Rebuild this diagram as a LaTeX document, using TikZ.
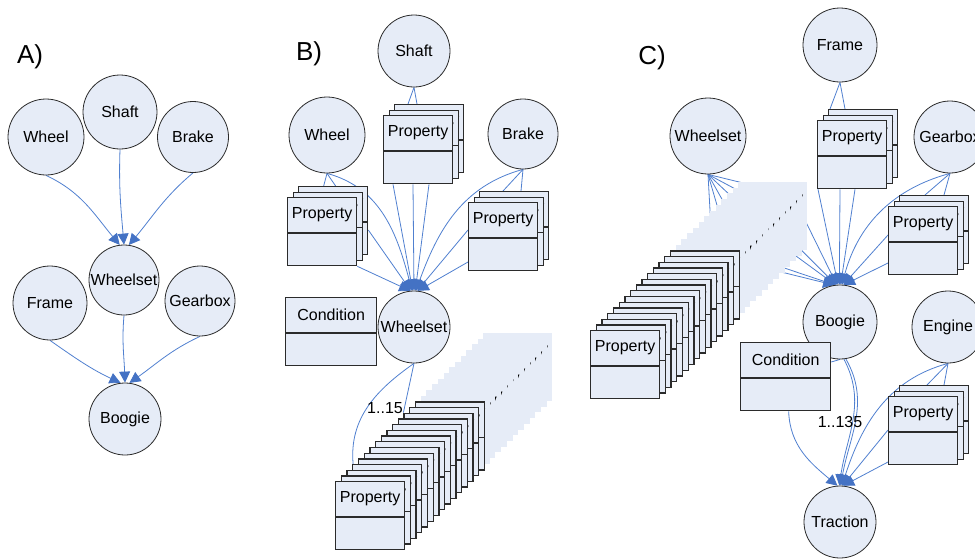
\documentclass[tikz,border=0pt]{standalone}
\usepackage{fontspec}
\setmainfont{Liberation Sans}
\usetikzlibrary{arrows.meta}
\pgfdeclarelayer{bg}
\pgfdeclarelayer{edges}
\pgfsetlayers{bg,edges,main}

\definecolor{entfill}{HTML}{E6ECF7}
\definecolor{linkblue}{HTML}{5080D0}
\definecolor{tipblue}{HTML}{4472C4}
\definecolor{outline}{HTML}{2B2B2B}

\tikzset{
  ent/.style={circle, draw=outline, line width=0.8pt, fill=entfill,
    minimum size=74pt, inner sep=0pt, font=\fontsize{16}{19}\selectfont},
  boxbody/.style={rectangle, draw=outline, line width=1.3pt, fill=entfill,
    minimum height=68pt, inner sep=0pt, anchor=north west},
  ghostbody/.style={rectangle, fill=entfill, minimum width=69pt,
    minimum height=68pt, inner sep=0pt, anchor=north west},
  boxtext/.style={inner sep=0pt, font=\fontsize{16}{19}\selectfont, text=black},
  divider/.style={draw=outline, line width=1.3pt},
  link/.style={draw=linkblue, line width=0.8pt},
  dep/.style={link, -{Triangle[length=11pt,width=11pt,color=tipblue]}},
  paneltitle/.style={inner sep=0pt, font=\fontsize{26}{30}\selectfont},
  mult/.style={inner sep=0pt, font=\fontsize{16}{19}\selectfont},
}

% class box: name, left x, top y, width, label
\newcommand\umlbox[5]{%
  \pgfmathsetmacro\ubx{#2}\pgfmathsetmacro\uby{#3}%
  \node[boxbody, minimum width=#4pt] (#1) at (\ubx,-\uby) {};
  \draw[divider] ([yshift=-36pt]#1.north west) -- ([yshift=-36pt]#1.north east);
  \node[boxtext] (#1-t) at ([yshift=-18pt]#1.north) {#5};
}
% faded class box without outline: name, left x, top y, label
\newcommand\ghostbox[4]{%
  \pgfmathsetmacro\ubx{#2}\pgfmathsetmacro\uby{#3}%
  \node[ghostbody] (#1) at (\ubx,-\uby) {};
  \node[boxtext] (#1-t) at ([yshift=-18pt]#1.north) {#4};
}

\begin{document}
\begin{tikzpicture}[x=1pt,y=1pt]
\useasboundingbox (0,0) rectangle (975,-558);
\begin{pgfonlayer}{bg}
  \fill[white] (0,0) rectangle (975,-558);
\end{pgfonlayer}

% ---------------- A) ----------------
\node[paneltitle] (tA) at (30,-57) {A)};
\node[ent, minimum size=76pt] (wheelA) at (46,-137) {Wheel};
\node[ent] (shaftA) at (120,-112) {Shaft};
\node[ent, minimum size=71pt] (brakeA) at (193,-137) {Brake};
\node[ent, minimum size=70pt] (wsA) at (124,-280) {Wheelset};
\node[ent] (frameA) at (50,-303) {Frame};
\node[ent, minimum size=70pt] (gearA) at (200,-301) {Gearbox};
\node[ent, minimum size=72pt] (boA) at (125,-419) {Boogie};

% ---------------- B) ----------------
\node[paneltitle] (tB) at (309,-54) {B)};
\node[ent, minimum size=72pt] (shaftB) at (414,-51) {Shaft};
\node[ent, minimum size=76pt] (wheelB) at (327,-135) {Wheel};
\node[ent, minimum size=70pt] (brakeB) at (523,-134) {Brake};
\node[ent, minimum size=72pt] (wsB) at (414,-327) {Wheelset};
\foreach \k in {2,1,0}{\umlbox{spB\k}{383+5.5*\k}{115-5.5*\k}{69}{Property}}
\foreach \k in {2,1,0}{\umlbox{wpB\k}{287+5.5*\k}{197-5.5*\k}{69}{Property}}
\foreach \k in {2,1,0}{\umlbox{bpB\k}{468+5.5*\k}{202-5.5*\k}{69}{Property}}
\umlbox{condB}{285}{297}{91}{Condition}
\foreach \k in {26,25,...,0}{%
  \ifnum\k>14 \ghostbox{sB\k}{335+5.7*\k}{481-5.7*\k}{Property}%
  \else \umlbox{sB\k}{335+5.7*\k}{481-5.7*\k}{69}{Property}\fi}
\node[mult] (mB) at (385,-408) {1..15};

% ---------------- C) ----------------
\node[paneltitle] (tC) at (652,-58) {C)};
\node[ent] (frameC) at (840,-45) {Frame};
\node[ent, minimum size=72pt] (gearC) at (950,-137) {Gearbox};
\node[ent, minimum size=76pt] (wsC) at (708,-136) {Wheelset};
\node[ent] (boC) at (840,-322) {Boogie};
\node[ent, minimum size=72pt] (engC) at (948,-327) {Engine};
\node[ent, minimum size=72pt] (trC) at (840,-522) {Traction};
\foreach \k in {2,1,0}{\umlbox{fpC\k}{817+5.5*\k}{120-5.5*\k}{69}{Property}}
\foreach \k in {2,1,0}{\umlbox{gpC\k}{888+5.5*\k}{206-5.5*\k}{69}{Property}}
\foreach \k in {2,1,0}{\umlbox{epC\k}{888+5.5*\k}{396-5.5*\k}{69}{Property}}
\umlbox{condC}{740}{342}{90}{Condition}
\foreach \k in {26,25,...,0}{%
  \ifnum\k>14 \ghostbox{sC\k}{590+5.7*\k}{330-5.7*\k}{Property}%
  \else \umlbox{sC\k}{590+5.7*\k}{330-5.7*\k}{69}{Property}\fi}
\node[mult] (mC) at (840,-422) {1..135};

% ---------------- connectors ----------------
\begin{pgfonlayer}{edges}
  % A
  \draw[dep] (wheelA.south) to[out=-25, in=130] (wsA.97);
  \draw[dep] (shaftA.south) to[out=-92, in=95] (wsA.90);
  \draw[dep] (brakeA.south) to[out=-140, in=50] (wsA.82);
  \draw[dep] (frameA.south) to[out=-35, in=155] (boA.97);
  \draw[dep] (wsA.south) to[out=-95, in=92] (boA.90);
  \draw[dep] (gearA.south) to[out=-155, in=35] (boA.83);

  % B: parts of the wheelset
  \draw[link] (wheelB.south) -- ([xshift=-9.5pt]wpB2.north);
  \draw[link] (wheelB.south) -- ([xshift=2.5pt]wpB2.north);
  \draw[dep] (wheelB.south) to[out=-15, in=105] (wsB.93);
  \draw[dep] ([yshift=-44pt]wpB2.north east) -- (wsB.95);
  \draw[dep] (wpB0.south east) -- (wsB.96);
  \draw[link] (shaftB.south) -- ([xshift=14pt]spB2.north west);
  \draw[link] (shaftB.south) -- ([xshift=23pt]spB2.north west);
  \draw[dep] ([xshift=10pt]spB0.south west) -- (wsB.92);
  \draw[dep] ([xshift=30pt]spB0.south west) -- (wsB.90);
  \draw[dep] ([xshift=46pt]spB0.south west) -- (wsB.88);
  \draw[link] (brakeB.south) -- ([xshift=24pt]bpB2.north west);
  \draw[link] (brakeB.south) -- ([xshift=42pt]bpB2.north west);
  \draw[dep] (brakeB.south) to[out=-165, in=70] (wsB.87);
  \draw[dep] ([yshift=-28pt]bpB0.north west) -- (wsB.85);
  \draw[dep] ([yshift=-60pt]bpB0.north west) -- (wsB.84);
  % B: wheelset properties
  \draw[link] (wsB.south) to[out=-145, in=95] ([xshift=1pt]sB3.north west);
  \draw[link] (wsB.south) -- (sB12.north west);

  % C: parts of the boogie
  \draw[link] (frameC.south) -- ([xshift=2pt]fpC2.north west);
  \draw[link] (frameC.south) -- ([xshift=17pt]fpC2.north west);
  \draw[dep] ([xshift=1pt]fpC0.south west) -- (boC.93);
  \draw[dep] ([xshift=23pt]fpC0.south west) -- (boC.91);
  \draw[dep] ([xshift=38pt]fpC0.south west) -- (boC.89);
  \draw[link] (gearC.south) -- ([xshift=26pt]gpC2.north west);
  \draw[link] (gearC.south) -- ([xshift=45pt]gpC2.north west);
  \draw[dep] (gearC.south) to[out=-165, in=75] (boC.87);
  \draw[dep] ([yshift=-29pt]gpC0.north west) -- (boC.85);
  \draw[dep] ([yshift=-57pt]gpC0.north west) -- (boC.84);
  % C: wheelset properties
  \draw[link] (wsC.south) -- ([shift={(68pt,26pt)}]sC20.north west);
  \draw[link] (wsC.south) -- ([shift={(52pt,16pt)}]sC20.north west);
  \draw[link] (wsC.south) -- ([shift={(44pt,4pt)}]sC20.north west);
  \draw[link] (wsC.south) -- ([shift={(32pt,-8pt)}]sC20.north west);
  \draw[link] (wsC.south) -- ([shift={(22pt,-20pt)}]sC20.north west);
  \draw[link] (wsC.south) -- ([shift={(8pt,-30pt)}]sC20.north west);
  \draw[dep] ([shift={(56.8pt,-18pt)}]sC26.north west) -- (boC.95);
  \draw[dep] ([shift={(41.8pt,-47pt)}]sC26.north west) -- (boC.96);
  \draw[dep] ([shift={(39.8pt,-61pt)}]sC26.north west) -- (boC.97);
  \draw[dep] ([shift={(21.8pt,-78pt)}]sC26.north west) -- (boC.98);
  \draw[dep] ([shift={(21.8pt,-85pt)}]sC26.north west) -- (boC.99);
  % C: parts of the traction
  \draw[dep] (boC.276) to[out=-62, in=82] (trC.91);
  \draw[dep] (boC.279) to[out=-60, in=80] (trC.89);
  \draw[link] ([yshift=-20pt]condC.north east) -- (boC.south);
  \draw[dep] ([xshift=3pt]condC.south) to[out=-88, in=140] (trC.94);
  \draw[link] (engC.south) -- ([xshift=28pt]epC2.north west);
  \draw[link] (engC.south) -- ([xshift=45pt]epC2.north west);
  \draw[dep] (engC.south) to[out=-165, in=72] (trC.87);
  \draw[dep] ([yshift=-34pt]epC0.north west) -- (trC.86);
  \draw[dep] ([yshift=-66pt]epC0.north west) -- (trC.85);
\end{pgfonlayer}
\end{tikzpicture}
\end{document}
